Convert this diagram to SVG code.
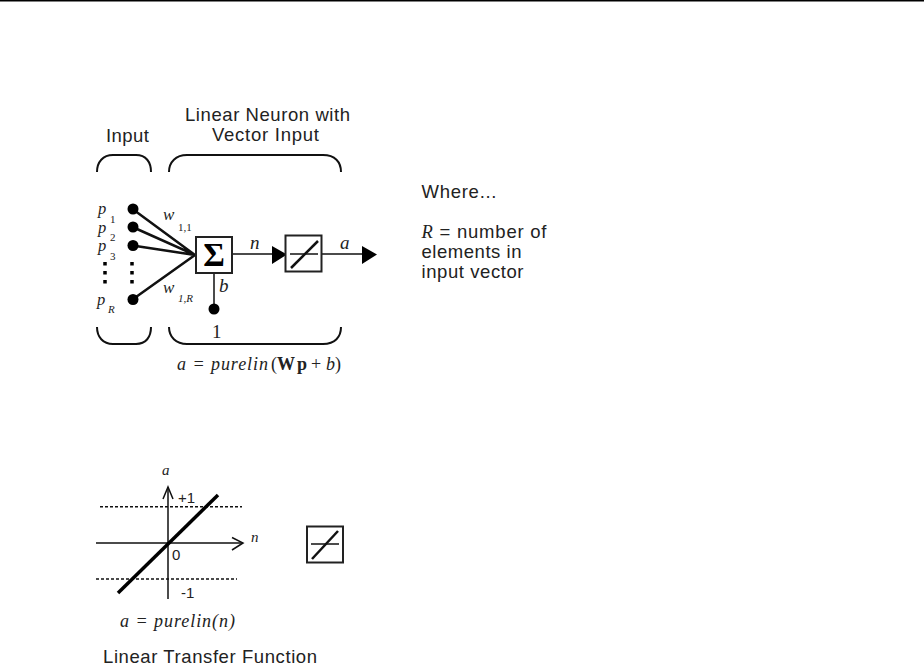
<svg xmlns="http://www.w3.org/2000/svg" width="924" height="665" viewBox="0 0 924 665">
<style>
text{fill:#222}
.s{font-family:"Liberation Sans",Arial,sans-serif;font-size:18.500px}
.p{font-family:"Liberation Sans",Arial,sans-serif;font-size:15px}
.i{font-family:"Liberation Serif","Times New Roman",serif;font-style:italic;font-size:19px}
.v{font-family:"Liberation Serif","Times New Roman",serif;font-style:italic;font-size:16.500px}
.q{font-family:"Liberation Serif","Times New Roman",serif;font-style:italic;font-size:15px}
.r{font-family:"Liberation Serif","Times New Roman",serif;font-size:19px}
.f{font-family:"Liberation Serif","Times New Roman",serif;font-size:18px}
.sm{font-size:11px}
.ln{stroke:#111;fill:none;stroke-width:1.500}
.th{stroke:#111;fill:none;stroke-width:2.500}
.br{stroke:#111;fill:none;stroke-width:2}
.box{stroke:#222;fill:#fff;stroke-width:2}
.dash{stroke:#111;fill:none;stroke-width:1.500;stroke-dasharray:3 2}
.dot{fill:#000}
</style>
<rect width="924" height="665" fill="#fff"/>
<rect x="0" y="0" width="924" height="1.500" fill="#000"/>
<g id="connectors">
<path class="th" d="M132.500 209L195 255M132.500 227L195 255M132.500 245.500L195 255M132.500 299.500L195 255"/>
<path class="ln" d="M232 254H274M322 254H364M214 273V309"/>
<path class="dot" d="M272 246L287 254.500L272 264ZM362 246L377 254.500L362 264Z"/>
<path class="dash" d="M100 506.700H242M96 579H237"/>
<path class="ln" d="M96 543H243M168 487V599"/>
<path class="ln" d="M232 537.500L243 543L232 550M163 499L168 487L173 499"/>
<path d="M118 593L218 495" stroke="#000" stroke-width="3.500" fill="none"/>
</g>
<g id="input-header">
<text class="s" x="106" y="141.500" textLength="43">Input</text>
<path class="br" d="M97 172C97 162 103 155 113 155H136C146 155 151 162 151 172"/>
<path class="br" d="M97 327C97 337 103 344 113 344H136C146 344 151 337 151 327"/>
</g>
<g id="neuron-header">
<text class="s" x="185" y="120.500" textLength="165">Linear Neuron with</text>
<text class="s" x="212" y="140.500" textLength="107">Vector Input</text>
<path class="br" d="M169 172C169 162 176 155 187 155H323C335 155 341 162 341 172"/>
<path class="br" d="M169 327C169 337 176 344 187 344H323C335 344 341 337 341 327"/>
</g>
<g id="p1"><circle class="dot" cx="133" cy="209" r="5.500"/><text class="v" x="98" y="214">p</text><text class="r sm" x="110" y="223">1</text></g>
<g id="p2"><circle class="dot" cx="133" cy="227" r="5.500"/><text class="v" x="98" y="232.500">p</text><text class="r sm" x="110" y="241">2</text></g>
<g id="p3"><circle class="dot" cx="133" cy="245.500" r="5.500"/><text class="v" x="98" y="251">p</text><text class="r sm" x="110" y="260">3</text></g>
<g id="pdots"><path d="M105 262v3.500M105 271v3.500M105 280v3.500M132 262v3.500M132 271v3.500M132 280v3.500" stroke="#000" stroke-width="3.500" fill="none"/></g>
<g id="pR"><circle class="dot" cx="133" cy="299.500" r="5.500"/><text class="v" x="97" y="305">p</text><text class="i sm" x="108" y="313">R</text></g>
<g id="weights">
<text class="i" x="163" y="220" style="font-size:17px">w</text><text class="r sm" x="178" y="231">1,1</text>
<text class="i" x="163" y="293" style="font-size:17px">w</text><text class="i sm" x="178" y="302">1,R</text>
</g>
<g id="sum"><rect class="box" x="196" y="237" width="36" height="36"/><text class="r" x="214" y="266" text-anchor="middle" style="font-size:33px;fill:#000;font-weight:bold">Σ</text></g>
<g id="bias"><circle class="dot" cx="214" cy="309" r="5.500"/><text class="i" x="219" y="292">b</text><text class="r" x="212" y="338">1</text></g>
<text class="i" x="250" y="249">n</text>
<g id="purelin"><rect class="box" x="285.500" y="235.500" width="36" height="36"/><path class="ln" d="M290 254H318"/><path class="th" d="M291 268L318 241"/></g>
<text class="i" x="340" y="249">a</text>
<g id="formula1"><text class="f" x="177" y="370" font-style="italic" textLength="91">a = purelin</text><text class="f" x="271" y="370">(</text><text class="f" x="277" y="370" font-weight="bold" textLength="30">Wp</text><text class="f" x="311" y="370">+</text><text class="f" x="326" y="370" font-style="italic">b</text><text class="f" x="335" y="370">)</text></g>
<g id="where">
<text class="s" x="421.500" y="198" textLength="75">Where...</text>
<text class="s" x="421.500" y="238" textLength="125"><tspan font-family="Liberation Serif" font-style="italic">R</tspan> = number of</text>
<text class="s" x="421.500" y="258" textLength="100">elements in</text>
<text class="s" x="421.500" y="278" textLength="102">input vector</text>
</g>
<g id="plot-labels">
<text class="q" x="162" y="475">a</text>
<text class="q" x="251" y="542">n</text>
<text class="p" x="178" y="503">+1</text>
<text class="p" x="172" y="560">0</text>
<text class="p" x="181" y="598">-1</text>
<text class="f" x="120" y="627" font-style="italic" textLength="115">a = purelin(n)</text>
<text class="s" x="103" y="662.500" textLength="214">Linear Transfer Function</text>
</g>
<g id="purelin-icon"><rect class="box" x="307" y="526.500" width="36" height="36"/><path class="ln" d="M311 544H339"/><path class="th" d="M312 559L338 531"/></g>
</svg>
